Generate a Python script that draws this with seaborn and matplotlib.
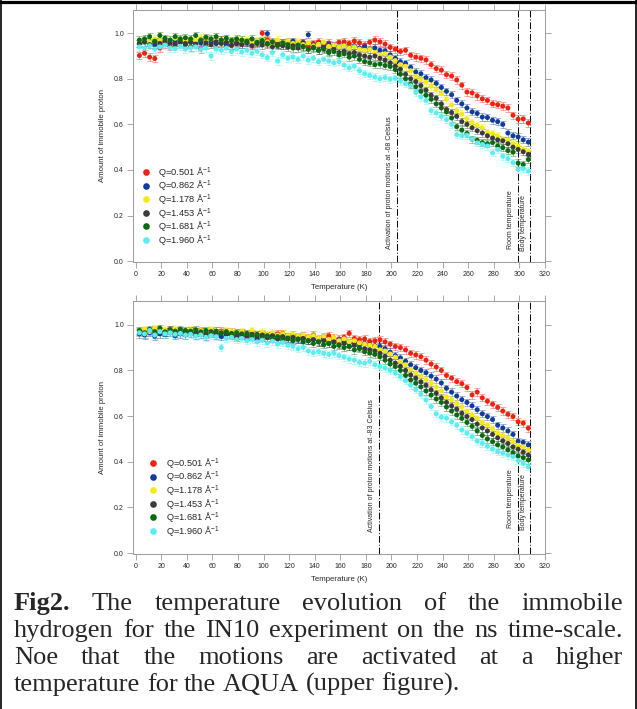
import numpy as np
import pandas as pd
import seaborn as sns
import matplotlib.pyplot as plt
from matplotlib.lines import Line2D

# temperature grid (K)
temps = [3, 7, 11, 15, 19, 23, 27, 31, 35, 39, 43, 47, 51, 55, 59, 63, 67, 71, 75, 79,
         83, 87, 91, 95, 99, 103, 107, 111, 115, 119, 123, 127, 131, 135, 139, 143, 147, 151, 155, 159,
         163, 167, 171, 175, 179, 183, 187, 191, 195, 199, 203, 207, 211, 215, 219, 223, 227, 231, 235, 239,
         243, 247, 251, 255, 259, 263, 267, 271, 275, 279, 283, 287, 291, 295, 299, 303, 307]

q_values = ['0.501', '0.862', '1.178', '1.453', '1.681', '1.960']
colors = ['#ee2211', '#103c9e', '#f5ea12', '#3c3c3c', '#0b6b12', '#5aeef0']

# ---- upper figure (AQUA) ----
top_q0501 = [0.902, 0.912, 0.895, 0.889, 0.935, 0.95, 0.944, 0.958, 0.962, 0.951,
             0.94, 0.955, 0.93, 0.948, 0.962, 0.955, 0.97, 0.958, 0.945, 0.952,
             0.96, 0.965, 0.95, 0.958, 1.0, 0.97, 0.955, 0.96, 0.948, 0.962,
             0.958, 0.952, 0.96, 0.944, 0.955, 0.962, 0.95, 0.957, 0.946, 0.96,
             0.962, 0.955, 0.966, 0.958, 0.948, 0.96, 0.97, 0.962, 0.952, 0.938,
             0.93, 0.92, 0.925, 0.903, 0.895, 0.89, 0.883, 0.862, 0.845, 0.838,
             0.818, 0.812, 0.795, 0.772, 0.742, 0.738, 0.725, 0.712, 0.705, 0.69,
             0.686, 0.68, 0.672, 0.64, 0.623, 0.624, 0.606]
top_q0862 = [0.955, 0.962, 0.958, 0.95, 0.965, 0.96, 0.955, 0.968, 0.96, 0.952,
             0.965, 0.96, 0.958, 0.97, 0.962, 0.955, 0.96, 0.948, 0.965, 0.958,
             0.952, 0.96, 0.955, 0.965, 0.962, 0.998, 0.958, 0.95, 0.96, 0.955,
             0.965, 0.945, 0.958, 0.993, 0.948, 0.955, 0.94, 0.95, 0.945, 0.94,
             0.948, 0.938, 0.945, 0.935, 0.94, 0.93, 0.935, 0.925, 0.922, 0.905,
             0.89, 0.875, 0.868, 0.85, 0.83, 0.822, 0.805, 0.795, 0.78, 0.762,
             0.745, 0.73, 0.705, 0.69, 0.672, 0.655, 0.648, 0.632, 0.63, 0.618,
             0.612, 0.6, 0.562, 0.55, 0.545, 0.532, 0.522]
top_q1178 = [0.965, 0.97, 0.96, 0.975, 0.968, 0.972, 0.96, 0.978, 0.97, 0.965,
             0.972, 0.968, 0.98, 0.965, 0.975, 0.97, 0.962, 0.975, 0.968, 0.972,
             0.965, 0.97, 0.96, 0.968, 0.975, 0.962, 0.958, 0.97, 0.96, 0.965,
             0.955, 0.962, 0.95, 0.958, 0.945, 0.952, 0.96, 0.942, 0.948, 0.94,
             0.945, 0.935, 0.94, 0.93, 0.925, 0.928, 0.915, 0.905, 0.91, 0.895,
             0.88, 0.862, 0.855, 0.835, 0.81, 0.796, 0.785, 0.768, 0.752, 0.735,
             0.71, 0.685, 0.66, 0.645, 0.625, 0.608, 0.595, 0.585, 0.565, 0.56,
             0.55, 0.535, 0.53, 0.515, 0.505, 0.49, 0.482]
top_q1453 = [0.955, 0.962, 0.95, 0.96, 0.955, 0.965, 0.958, 0.95, 0.962, 0.955,
             0.96, 0.952, 0.965, 0.958, 0.95, 0.962, 0.955, 0.96, 0.948, 0.955,
             0.95, 0.958, 0.945, 0.955, 0.948, 0.952, 0.94, 0.95, 0.945, 0.938,
             0.945, 0.935, 0.942, 0.93, 0.938, 0.925, 0.932, 0.92, 0.928, 0.915,
             0.92, 0.91, 0.915, 0.905, 0.9, 0.895, 0.9, 0.89, 0.882, 0.87,
             0.855, 0.842, 0.82, 0.8, 0.788, 0.77, 0.75, 0.728, 0.715, 0.69,
             0.665, 0.652, 0.635, 0.612, 0.6, 0.585, 0.572, 0.562, 0.55, 0.54,
             0.532, 0.528, 0.515, 0.5, 0.49, 0.48, 0.468]
top_q1681 = [0.97, 0.975, 0.985, 0.965, 0.99, 0.978, 0.97, 0.985, 0.975, 0.98,
             0.975, 0.99, 0.97, 0.982, 0.975, 0.985, 0.97, 0.978, 0.968, 0.975,
             0.97, 0.965, 0.975, 0.96, 0.968, 0.955, 0.962, 0.945, 0.958, 0.95,
             0.935, 0.948, 0.94, 0.93, 0.935, 0.925, 0.93, 0.915, 0.92, 0.905,
             0.91, 0.895, 0.9, 0.885, 0.875, 0.87, 0.862, 0.865, 0.858, 0.854,
             0.84, 0.82, 0.8, 0.775, 0.765, 0.745, 0.728, 0.71, 0.69, 0.672,
             0.655, 0.628, 0.59, 0.575, 0.56, 0.535, 0.53, 0.52, 0.515, 0.52,
             0.505, 0.498, 0.485, 0.478, 0.43, 0.424, 0.446]
top_q1960 = [0.94, 0.935, 0.945, 0.93, 0.94, 0.948, 0.935, 0.932, 0.942, 0.93,
             0.935, 0.94, 0.928, 0.935, 0.9, 0.93, 0.925, 0.935, 0.92, 0.93,
             0.918, 0.925, 0.912, 0.92, 0.905, 0.892, 0.915, 0.878, 0.905, 0.89,
             0.895, 0.885, 0.9, 0.882, 0.89, 0.875, 0.885, 0.878, 0.87, 0.875,
             0.86, 0.848, 0.855, 0.835, 0.822, 0.815, 0.808, 0.8, 0.805, 0.798,
             0.802, 0.79, 0.778, 0.77, 0.74, 0.72, 0.705, 0.66, 0.65, 0.635,
             0.621, 0.6, 0.555, 0.55, 0.552, 0.535, 0.519, 0.512, 0.505, 0.475,
             0.49, 0.46, 0.45, 0.432, 0.402, 0.405, 0.395]

# ---- lower figure ----
bot_q0501 = [0.965, 0.975, 0.97, 0.98, 0.972, 0.968, 0.978, 0.97, 0.975, 0.965,
             0.972, 0.968, 0.975, 0.962, 0.97, 0.965, 0.972, 0.96, 0.968, 0.962,
             0.965, 0.958, 0.962, 0.955, 0.96, 0.952, 0.958, 0.96, 0.962, 0.95,
             0.955, 0.948, 0.952, 0.945, 0.955, 0.94, 0.948, 0.952, 0.942, 0.938,
             0.945, 0.962, 0.94, 0.935, 0.938, 0.927, 0.93, 0.934, 0.925, 0.915,
             0.905, 0.9, 0.89, 0.875, 0.868, 0.86, 0.845, 0.828, 0.815, 0.8,
             0.778, 0.766, 0.751, 0.742, 0.725, 0.693, 0.705, 0.68, 0.665, 0.652,
             0.638, 0.622, 0.608, 0.598, 0.575, 0.569, 0.547]
bot_q0862 = [0.96, 0.955, 0.965, 0.95, 0.96, 0.958, 0.965, 0.952, 0.96, 0.955,
             0.962, 0.955, 0.958, 0.95, 0.962, 0.955, 0.948, 0.958, 0.952, 0.945,
             0.955, 0.948, 0.952, 0.94, 0.95, 0.945, 0.952, 0.938, 0.945, 0.94,
             0.935, 0.942, 0.938, 0.93, 0.935, 0.928, 0.935, 0.93, 0.925, 0.932,
             0.925, 0.92, 0.922, 0.915, 0.918, 0.912, 0.908, 0.905, 0.895, 0.88,
             0.865, 0.855, 0.84, 0.825, 0.812, 0.8, 0.79, 0.775, 0.762, 0.745,
             0.722, 0.705, 0.688, 0.672, 0.66, 0.645, 0.628, 0.61, 0.598, 0.585,
             0.56, 0.548, 0.535, 0.52, 0.49, 0.485, 0.474]
bot_q1178 = [0.975, 0.98, 0.97, 0.985, 0.975, 0.978, 0.97, 0.982, 0.975, 0.97,
             0.978, 0.972, 0.975, 0.968, 0.98, 0.972, 0.968, 0.975, 0.97, 0.965,
             0.97, 0.962, 0.975, 0.96, 0.968, 0.958, 0.965, 0.955, 0.96, 0.952,
             0.958, 0.95, 0.955, 0.945, 0.952, 0.94, 0.948, 0.935, 0.942, 0.93,
             0.938, 0.925, 0.93, 0.92, 0.915, 0.91, 0.905, 0.89, 0.885, 0.872,
             0.858, 0.84, 0.825, 0.805, 0.79, 0.775, 0.76, 0.742, 0.728, 0.71,
             0.685, 0.672, 0.655, 0.64, 0.622, 0.605, 0.59, 0.572, 0.56, 0.545,
             0.525, 0.515, 0.502, 0.488, 0.472, 0.465, 0.452]
bot_q1453 = [0.97, 0.965, 0.975, 0.96, 0.97, 0.968, 0.975, 0.962, 0.97, 0.965,
             0.972, 0.965, 0.968, 0.96, 0.97, 0.962, 0.965, 0.958, 0.962, 0.955,
             0.96, 0.952, 0.958, 0.95, 0.955, 0.945, 0.952, 0.94, 0.948, 0.938,
             0.945, 0.935, 0.94, 0.93, 0.935, 0.925, 0.93, 0.918, 0.925, 0.912,
             0.918, 0.905, 0.91, 0.9, 0.895, 0.89, 0.885, 0.875, 0.862, 0.845,
             0.832, 0.818, 0.8, 0.78, 0.766, 0.75, 0.735, 0.715, 0.7, 0.68,
             0.66, 0.645, 0.63, 0.612, 0.598, 0.585, 0.565, 0.548, 0.535, 0.52,
             0.505, 0.492, 0.48, 0.465, 0.455, 0.442, 0.43]
bot_q1681 = [0.975, 0.96, 0.98, 0.97, 0.985, 0.968, 0.978, 0.972, 0.98, 0.975,
             0.97, 0.978, 0.968, 0.975, 0.965, 0.972, 0.962, 0.97, 0.958, 0.965,
             0.955, 0.962, 0.95, 0.958, 0.945, 0.952, 0.94, 0.948, 0.935, 0.942,
             0.93, 0.938, 0.925, 0.93, 0.918, 0.925, 0.912, 0.918, 0.905, 0.91,
             0.9, 0.905, 0.89, 0.895, 0.882, 0.876, 0.87, 0.86, 0.845, 0.828,
             0.817, 0.8, 0.778, 0.758, 0.744, 0.728, 0.71, 0.692, 0.675, 0.66,
             0.64, 0.622, 0.605, 0.59, 0.572, 0.555, 0.535, 0.515, 0.5, 0.488,
             0.474, 0.465, 0.452, 0.44, 0.425, 0.418, 0.408]
bot_q1960 = [0.965, 0.96, 0.975, 0.955, 0.97, 0.96, 0.965, 0.958, 0.962, 0.955,
             0.958, 0.95, 0.955, 0.945, 0.952, 0.948, 0.9, 0.94, 0.945, 0.935,
             0.94, 0.93, 0.935, 0.925, 0.932, 0.92, 0.928, 0.915, 0.922, 0.91,
             0.905, 0.895, 0.9, 0.885, 0.878, 0.882, 0.875, 0.87, 0.875, 0.865,
             0.858, 0.85, 0.845, 0.835, 0.832, 0.839, 0.825, 0.817, 0.81, 0.8,
             0.788, 0.772, 0.755, 0.735, 0.715, 0.695, 0.67, 0.642, 0.61, 0.595,
             0.591, 0.575, 0.56, 0.539, 0.525, 0.51, 0.49, 0.481, 0.468, 0.455,
             0.444, 0.438, 0.43, 0.422, 0.405, 0.392, 0.378]

err = 0.016

top_series = [top_q0501, top_q0862, top_q1178, top_q1453, top_q1681, top_q1960]
bot_series = [bot_q0501, bot_q0862, bot_q1178, bot_q1453, bot_q1681, bot_q1960]

# reference lines (K) and their labels
top_vlines = [204, 299, 308]
top_vlabels = ['Activation of proton motions at -68 Celsius', 'Room temperature', 'Body temperature']
top_vlabel_y = [0.052, 0.052, 0.044]
bot_vlines = [190, 299, 308]
bot_vlabels = ['Activation of proton motions at -83 Celsius', 'Room temperature', 'Body temperature']
bot_vlabel_y = [0.092, 0.11, 0.10]

caption_lines = [
    ['Fig2.', 'The', 'temperature', 'evolution', 'of', 'the', 'immobile'],
    ['hydrogen', 'for', 'the', 'IN10', 'experiment', 'on', 'the', 'ns', 'time-scale.'],
    ['Noe', 'that', 'the', 'motions', 'are', 'activated', 'at', 'a', 'higher'],
    ['temperature', 'for', 'the', 'AQUA', '(upper', 'figure).'],
]

sns.set_style('ticks')
plt.rcParams['font.family'] = ['Liberation Sans', 'DejaVu Sans']
plt.rcParams['mathtext.fontset'] = 'custom'
plt.rcParams['mathtext.rm'] = 'Liberation Sans'
plt.rcParams['mathtext.it'] = 'Liberation Sans:italic'

W, H = 637, 709
fig = plt.figure(figsize=(W / 100, H / 100), dpi=100)
ax_top = fig.add_axes([133 / W, 1 - 262 / H, 412 / W, 252.5 / H])
ax_bot = fig.add_axes([133 / W, 1 - 554 / H, 412 / W, 253 / H])

labels = ['Q=%s Å$^{-1}$' % q for q in q_values]
spine_col = '#9a9a9a'


def draw_panel(ax, series, vlines, vlabels, vlabel_y, leg_anchor, textpad):
    for vals, c in zip(series, colors):
        ax.errorbar(temps, vals, yerr=err, fmt='none', ecolor=c, alpha=0.45,
                    elinewidth=0.6, capsize=2.2, capthick=0.6, zorder=2)
    df = pd.concat([pd.DataFrame({'T': temps, 'amount': vals, 'Q': lab})
                    for vals, lab in zip(series, labels)], ignore_index=True)
    sns.scatterplot(data=df, x='T', y='amount', hue='Q', palette=colors,
                    s=13, linewidth=0, legend=False, ax=ax, zorder=3)
    offsets = [-5.6, -5.8, -4.6]
    for xv, lab, yb, dx in zip(vlines, vlabels, vlabel_y, offsets):
        ax.axvline(xv, color='black', lw=0.7, dashes=(7, 2, 1, 2), zorder=1)
        ax.text(xv + dx, yb, lab, rotation=90, ha='center', va='bottom', fontsize=5.0)
    ax.set_xlim(-2, 320)
    ax.set_ylim(-0.004, 1.104)
    ax.set_xticks(range(0, 321, 20))
    ax.set_yticks([0.0, 0.2, 0.4, 0.6, 0.8, 1.0])
    ax.set_yticklabels(['0.0', '0.2', '0.4', '0.6', '0.8', '1.0'])
    ax.set_xlabel('Temperature (K)', fontsize=5.6, labelpad=4)
    ax.set_ylabel('Amount of immobile proton', fontsize=5.6, labelpad=6)
    ax.tick_params(direction='out', length=4.5, width=0.6, color=spine_col,
                   labelsize=5, pad=2, top=True, right=True)
    for sp in ax.spines.values():
        sp.set_visible(True)
        sp.set_color(spine_col)
        sp.set_linewidth(0.7)
    handles = [Line2D([], [], ls='none', marker='o', ms=4.8, mfc=c, mec='none') for c in colors]
    ax.legend(handles, labels, loc='upper left', bbox_to_anchor=leg_anchor, frameon=False,
              fontsize=6.7, borderpad=0, borderaxespad=0, handlelength=1.0,
              handletextpad=textpad, labelspacing=-0.15)


draw_panel(ax_top, top_series, top_vlines, top_vlabels, top_vlabel_y, (0.02, 0.385), 0.8)
draw_panel(ax_bot, bot_series, bot_vlines, bot_vlabels, bot_vlabel_y, (0.037, 0.388), 0.9)

# frame around the figure
fig.add_artist(Line2D([0, 1], [1 - 1.5 / H, 1 - 1.5 / H], color='black', lw=2.3))
fig.add_artist(Line2D([0.8 / W, 0.8 / W], [0, 1], color='black', lw=1.2))
fig.add_artist(Line2D([1 - 0.8 / W, 1 - 0.8 / W], [0, 1], color='black', lw=1.2))

# justified caption
fig.canvas.draw()
renderer = fig.canvas.get_renderer()
left, right = 14, 623
for i, words in enumerate(caption_lines):
    y = 1 - (610 + 27 * i) / H
    texts = []
    for j, w in enumerate(words):
        bold = (i == 0 and j == 0)
        texts.append(fig.text(0, y, w, fontsize=19, family='Liberation Serif',
                              weight='bold' if bold else 'normal', va='baseline'))
    widths = [t.get_window_extent(renderer).width for t in texts]
    if i < len(caption_lines) - 1:
        gap = (right - left - sum(widths)) / (len(words) - 1)
    else:
        gap = 0.25 * 19 / 0.72
    x = left
    for t, w in zip(texts, widths):
        t.set_x(x / W)
        x += w + gap

fig.savefig('out.png', dpi=100)
